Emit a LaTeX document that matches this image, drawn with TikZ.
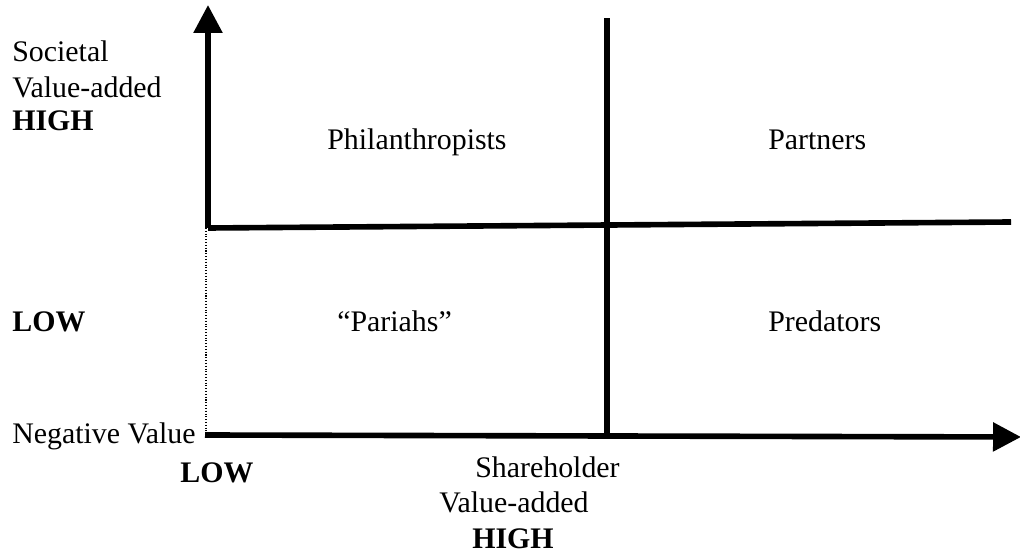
\documentclass[tikz,border=0pt]{standalone}
\usepackage{fontspec}
\setmainfont{Liberation Serif}
\usetikzlibrary{positioning}
\usetikzlibrary{arrows.meta}

\begin{document}
\begin{tikzpicture}[
  x=0.02cm, y=-0.02cm,
  font=\fontsize{17}{20.5}\selectfont,
  axis/.style={line width=3.2pt},
  axisarrow/.style={line width=3.2pt, -{Triangle[length=0.56cm, width=0.56cm]}},
  guide/.style={densely dotted, line width=0.6pt},
  lbl/.style={inner sep=0pt, anchor=base west}
]
\useasboundingbox (0,0) rectangle (1020,553);

% Axis points
\coordinate (origin) at (205,435);
\coordinate (ymid) at (208,228);
\coordinate (ytop) at (208,5);
\coordinate (xend) at (1021,437);
\coordinate (hend) at (1011,222);
\coordinate (vtop) at (607,18);
\coordinate (vbot) at (607,435);
\coordinate (dtop) at (206,228);
\coordinate (dbot) at (206,432);

% Axes and quadrant lines
\draw[axisarrow] (ymid) -- (ytop);
\draw[axisarrow] (origin) -- (xend);
\draw[axis] (ymid) -- (hend);
\draw[axis] (vbot) -- (vtop);
\draw[guide] (dtop) -- (dbot);

% Vertical axis labels
\node[lbl] (soc) at (12,62) {Societal};
\node[lbl] (socva) at (12,98) {Value-added};
\node[lbl] (sochigh) at (12,131) {\textbf{HIGH}};
\node[lbl] (soclow) at (12,332) {\textbf{LOW}};
\node[lbl] (negval) at (12,443) {Negative Value};

% Quadrants
\node[lbl] (phil) at (327,150) {Philanthropists};
\node[lbl] (part) at (768,150) {Partners};
\node[lbl] (pariah) at (337,332) {“Pariahs”};
\node[lbl] (pred) at (768,332) {Predators};

% Horizontal axis labels
\node[lbl] (shlow) at (180,482) {\textbf{LOW}};
\node[lbl] (sh) at (475,477) {Shareholder};
\node[lbl] (shva) at (439,512) {Value-added};
\node[lbl] (shhigh) at (472,548) {\textbf{HIGH}};

\end{tikzpicture}
\end{document}
